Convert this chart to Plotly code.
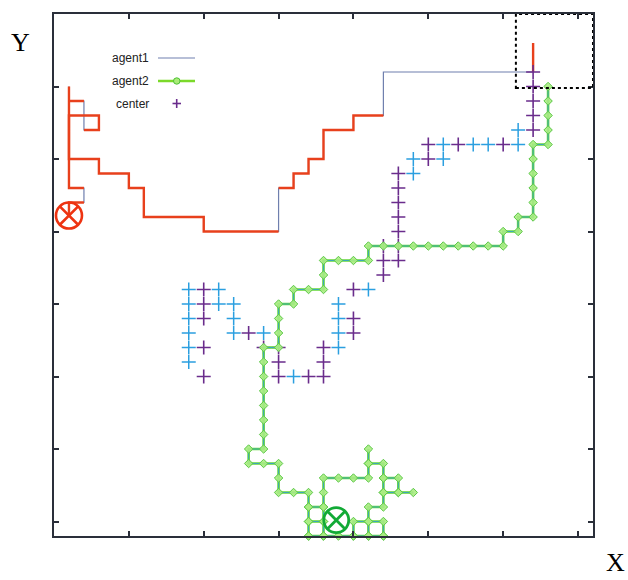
import plotly.graph_objects as go

# ---------------- data (grid units) ----------------
# agent1 trajectory (single walk, with backtracking)
agent1_x = [32, 32, 22, 22, 20, 20, 18, 18, 17, 17, 16, 16, 15, 15, 10, 10, 6, 6, 5, 5, 3, 3, 1, 1, 3, 3, 2, 2, 1, 1, 1, 2, 2, 1, 1]
agent1_y = [34, 32, 32, 29, 29, 28, 28, 26, 26, 25, 25, 24, 24, 21, 21, 22, 22, 24, 24, 25, 25, 26, 26, 29, 29, 28, 28, 30, 30, 31, 24, 24, 23, 23, 22]

# red highlighted part of agent1 trajectory
agent1_hl_x = [32, 32, None, 22, 20, 20, 18, 18, 17, 17, 16, 16, 15, None,
               15, 10, 10, 6, 6, 5, 5, 3, 3, 1, 1, 3, 3, 2, None,
               2, 1, 1, 1, 2, None, 2, 1, 1]
agent1_hl_y = [34, 32, None, 29, 29, 28, 28, 26, 26, 25, 25, 24, 24, None,
               21, 21, 22, 22, 24, 24, 25, 25, 26, 26, 29, 29, 28, 28, None,
               30, 30, 31, 24, 24, None, 23, 23, 22]

# agent2 trajectory (strokes separated by None)
agent2_x = [33, 33, 33, 33, 33, 32, 32, 32, 32, 32, 32, 31, 31, 30, 30, 29, 28, 27, 26, 25, 24, 23, 22, 21, 21,
            20, 19, 18, 18, 18, 17, 16, 16, 15, 15, 15, 15, 14, 14, 14, 14, 14, 14, 14, 14, 13, 13, 14, 15, 15,
            15, 16, 17, 17, 17, 17, None,
            17, 18, None,
            17, 18, None,
            18, 18, 18, 18, 18, 19, 20, 21, 21, 21, None,
            21, 22, 22, 22, 22, 21, 21, 21, None,
            22, 23, 23, None,
            22, 23, 24, None,
            20, 20, 21, 22, 22, None,
            17, 18, 19, 20, 21, 22]
agent2_y = [31, 30, 29, 28, 27, 27, 26, 25, 24, 23, 22, 22, 21, 21, 20, 20, 20, 20, 20, 20, 20, 20, 20, 20, 19,
            19, 19, 19, 18, 17, 17, 17, 16, 16, 15, 14, 13, 13, 12, 11, 10, 9, 8, 7, 6, 6, 5, 5, 5, 4,
            3, 3, 3, 2, 1, 0, None,
            2, 2, None,
            1, 1, None,
            0, 1, 2, 3, 4, 4, 4, 4, 5, 6, None,
            5, 5, 4, 3, 2, 2, 1, 0, None,
            4, 4, 3, None,
            3, 3, 3, None,
            0, 1, 1, 1, 0, None,
            0, 0, 0, 0, 0, 0]

# "center" crosses
center_x = [32, 32, 32, 32, 32, 25, 27, 30, 25, 23, 23, 23, 23, 23, 22, 23, 22, 23, 22,
            10, 10, 10, 13, 10, 10, 20, 20, 20, 18, 15, 18, 15, 17, 18, 14, 15]
center_y = [32, 31, 30, 29, 28, 27, 27, 27, 26, 25, 24, 23, 22, 21, 20, 20, 19, 19, 18,
            17, 16, 15, 14, 13, 11, 17, 15, 14, 13, 12, 12, 11, 11, 11, 13, 13]

# other (light blue) crosses
other_x = [31, 26, 28, 29, 31, 24, 26, 24,
           9, 11, 9, 11, 12, 9, 12, 9, 12, 14, 9, 9, 16, 19, 19, 19, 19, 21]
other_y = [28, 27, 27, 27, 27, 26, 26, 25,
           17, 17, 16, 16, 16, 15, 15, 14, 14, 14, 13, 12, 11, 16, 15, 14, 13, 17]

# end positions
end1_x, end1_y = [1.0], [22.1]
end2_x, end2_y = [18.85], [1.1]

x_ticks = [0, 5, 10, 15, 20, 25, 30, 35]
y_ticks = [1, 6, 11, 16, 21, 26, 31, 36]

# ---------------- figure ----------------
W, H = 628, 580
L, R, T, B = 54, 35, 14, 44
PW, PH = W - L - R, H - T - B


def px(x):
    return (x - L) / PW


def py(y):
    return (H - B - y) / PH


fig = go.Figure()

fig.add_trace(go.Scatter(x=agent1_x, y=agent1_y, mode="lines",
                         line=dict(color="#6f7fae", width=1.2), name="agent1",
                         hoverinfo="skip"))
fig.add_trace(go.Scatter(x=agent1_hl_x, y=agent1_hl_y, mode="lines",
                         line=dict(color="#e8401c", width=2.4), connectgaps=False,
                         showlegend=False, hoverinfo="skip"))

fig.add_trace(go.Scatter(x=other_x, y=other_y, mode="markers",
                         marker=dict(symbol="cross-thin-open", size=10, color="#2b9fe0",
                                     line=dict(color="#2b9fe0", width=1.5)),
                         showlegend=False, hoverinfo="skip"))
fig.add_trace(go.Scatter(x=center_x, y=center_y, mode="markers",
                         marker=dict(symbol="cross-thin-open", size=10, color="#6a2c8c",
                                     line=dict(color="#6a2c8c", width=1.6)),
                         name="center", hoverinfo="skip"))

fig.add_trace(go.Scatter(x=agent2_x, y=agent2_y, mode="lines", connectgaps=False,
                         line=dict(color="#66d63a", width=2.6), cliponaxis=False,
                         showlegend=False, hoverinfo="skip"))
fig.add_trace(go.Scatter(x=agent2_x, y=agent2_y, mode="lines", connectgaps=False,
                         line=dict(color="#3aa8b8", width=1), cliponaxis=False,
                         showlegend=False, hoverinfo="skip"))
fig.add_trace(go.Scatter(x=agent2_x, y=agent2_y, mode="markers",
                         marker=dict(symbol="diamond", size=6.5, color="rgba(170,236,130,0.9)",
                                     line=dict(color="#5cc848", width=1)),
                         cliponaxis=False, name="agent2", hoverinfo="skip"))

fig.add_trace(go.Scatter(x=end1_x, y=end1_y, mode="markers",
                         marker=dict(symbol="circle-x-open", size=26, color="#ee3311",
                                     line=dict(color="#ee3311", width=2.6)),
                         showlegend=False, hoverinfo="skip"))
fig.add_trace(go.Scatter(x=end2_x, y=end2_y, mode="markers",
                         marker=dict(symbol="circle-x-open", size=25, color="#12aa36",
                                     line=dict(color="#12aa36", width=2.8)),
                         cliponaxis=False, showlegend=False, hoverinfo="skip"))

axis_common = dict(showgrid=False, zeroline=False, showline=True, linecolor="#2a2f3a",
                   linewidth=1.5, mirror="ticks", ticks="inside", ticklen=5,
                   tickwidth=1.5, tickcolor="#2a2f3a", showticklabels=False)

fig.update_xaxes(range=[0, 36], tickvals=x_ticks, **axis_common)
fig.update_yaxes(range=[0, 36], tickvals=y_ticks, **axis_common)

shapes = [
    # dotted box top-right
    dict(type="rect", xref="x", yref="y", x0=30.85, x1=36, y0=30.9, y1=36,
         line=dict(color="black", width=2, dash="dot")),
    # legend samples
    dict(type="line", xref="paper", yref="paper", x0=px(158), x1=px(195), y0=py(58), y1=py(58),
         line=dict(color="#7080b0", width=1.2)),
    dict(type="line", xref="paper", yref="paper", x0=px(158), x1=px(195), y0=py(81), y1=py(81),
         line=dict(color="#7bd92a", width=2.5)),
    dict(type="circle", xref="paper", yref="paper", x0=px(173.5), x1=px(180), y0=py(77.8), y1=py(84.2),
         line=dict(color="#4fc238", width=1), fillcolor="rgba(170,235,120,1)"),
    dict(type="line", xref="paper", yref="paper", x0=px(172.5), x1=px(181), y0=py(103.5), y1=py(103.5),
         line=dict(color="#6a2c8c", width=1.6)),
    dict(type="line", xref="paper", yref="paper", x0=px(176.7), x1=px(176.7), y0=py(99), y1=py(108),
         line=dict(color="#6a2c8c", width=1.6)),
]

leg_font = dict(family="Liberation Sans Narrow, Arial Narrow, Liberation Sans, Arial", size=12, color="#222")
serif = dict(family="Liberation Serif, Times New Roman, serif", size=26, color="black")
annotations = [
    dict(text="agent1", x=px(151), y=py(58), xref="paper", yref="paper", xanchor="right",
         yanchor="middle", showarrow=False, font=leg_font),
    dict(text="agent2", x=px(151), y=py(81), xref="paper", yref="paper", xanchor="right",
         yanchor="middle", showarrow=False, font=leg_font),
    dict(text="center", x=px(151), y=py(103.5), xref="paper", yref="paper", xanchor="right",
         yanchor="middle", showarrow=False, font=leg_font),
    dict(text="Y", x=px(20), y=py(42), xref="paper", yref="paper", xanchor="center",
         yanchor="middle", showarrow=False, font=serif),
    dict(text="X", x=px(615), y=py(579), xref="paper", yref="paper", xanchor="center",
         yanchor="bottom", showarrow=False, font=serif),
]

fig.update_layout(width=W, height=H, margin=dict(l=L, r=R, t=T, b=B, pad=0),
                  paper_bgcolor="white", plot_bgcolor="white", showlegend=False,
                  shapes=shapes, annotations=annotations)

fig.write_html("out.html", config={"displayModeBar": False},
               post_script="document.body.style.margin='0px';")
